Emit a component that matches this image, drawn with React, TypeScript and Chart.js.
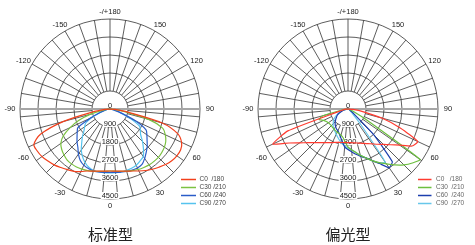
import React, { useEffect, useRef } from 'react';
import { Chart, registerables } from 'chart.js';

Chart.register(...registerables);

// gamma angles (degrees) at which each C-plane curve is sampled
const GAMMA = [-90, -85, -80, -75, -70, -65, -60, -55, -50, -45, -40, -35, -30, -25, -20, -15, -10, -5, 0,
  5, 10, 15, 20, 25, 30, 35, 40, 45, 50, 55, 60, 65, 70, 75, 80, 85, 90];

// 标准型 (standard) intensities, cd
const STD_C0_180 = [0, 250, 900, 2400, 3700, 4200, 4200, 4150, 4050, 3950, 3820, 3700, 3600, 3450, 3300, 3220, 3150, 3120,
  3100,
  3120, 3150, 3220, 3300, 3420, 3550, 3680, 3800, 3930, 4030, 4080, 4080, 3950, 3600, 2700, 900, 250, 0];
const STD_C30_210 = [0, 100, 350, 1000, 1650, 2200, 2700, 3000, 3150, 3250, 3330, 3350, 3350, 3320, 3280, 3220, 3170, 3130,
  3100,
  3120, 3170, 3220, 3280, 3340, 3380, 3410, 3420, 3420, 3380, 3320, 3220, 3050, 2800, 2000, 700, 200, 0];
const STD_C60_240 = [0, 50, 150, 250, 550, 1100, 1850, 2000, 2150, 2330, 2500, 2750, 2970, 3100, 3170, 3200, 3200, 3180,
  3170,
  3180, 3200, 3230, 3250, 3250, 3200, 3020, 2820, 2630, 2420, 2250, 2080, 1400, 600, 200, 60, 0, 0];
const STD_C90_270 = [0, 50, 150, 300, 600, 1000, 1400, 1550, 1700, 1950, 2200, 2500, 2750, 2950, 3100, 3180, 3200, 3200,
  3200,
  3200, 3200, 3180, 3150, 3100, 3000, 2900, 2600, 2300, 2000, 1850, 1700, 1100, 600, 300, 120, 40, 0];

// 偏光型 (asymmetric) intensities, cd
const POL_C0_180 = [0, 100, 250, 500, 3200, 4150, 3400, 2950, 2620, 2380, 2200, 2050, 1940, 1850, 1780, 1730, 1700, 1680,
  1680,
  1690, 1720, 1760, 1820, 1900, 2000, 2130, 2300, 2500, 2780, 3150, 3700, 3850, 2800, 1750, 750, 250, 0];
const POL_C30_210 = [0, 80, 350, 1300, 1550, 1350, 1250, 1200, 1180, 1180, 1200, 1220, 1250, 1280, 1300, 1350, 1450, 1650,
  1900,
  2050, 2200, 2400, 2600, 2850, 3100, 3350, 3650, 3950, 4200, 4400, 1000, 300, 120, 50, 0, 0, 0];
const POL_C60_240 = [0, 40, 100, 200, 350, 500, 620, 700, 800, 900, 1000, 1080, 1150, 1200, 1300, 1450, 1650, 1900,
  2030,
  2150, 2300, 2450, 2600, 2850, 3150, 3580, 3450, 1800, 400, 200, 120, 80, 50, 30, 0, 0, 0];
const POL_C90_270 = [0, 50, 120, 250, 400, 550, 700, 850, 950, 1050, 1150, 1230, 1300, 1400, 1500, 1620, 1750, 1850,
  1950,
  2050, 2200, 2400, 2600, 2850, 3100, 3250, 900, 300, 150, 100, 60, 40, 20, 0, 0, 0, 0];

const RADIAL_TICKS = [0, 900, 1800, 2700, 3600, 4500];
const ANGLE_TICKS = [0, -30, -60, -90, -120, -150, 180, 150, 120, 90, 60, 30];
const ANGLE_TICK_LABELS = ['0', '-30', '-60', '-90', '-120', '-150', '-/+180', '150', '120', '90', '60', '30'];
const SPOKE_ANGLES = [-170, -160, -150, -140, -130, -120, -110, -100, 100, 110, 120, 130, 140, 150, 160, 170, 180,
  -85, -75, -65, -55, -45, -35, -25, -15, -5, 5, 15, 25, 35, 45, 55, 65, 75, 85];
const STD_LEGEND = ['C0  /180', 'C30 /210', 'C60 /240', 'C90 /270'];
const POL_LEGEND = ['C0   /180', 'C30  /210', 'C60  /240', 'C90  /270'];
const STD_TITLE = '标准型';
const POL_TITLE = '偏光型';

const R_MAX = 4500;
const STEP = 5;
const SLOTS = 360 / STEP;
const RADAR_ANGLES = Array.from({ length: SLOTS }, (_, k) => (k <= SLOTS / 2 ? -STEP * k : 360 - STEP * k));

const FONT = '"Liberation Sans", Arial, sans-serif';

function gammaIndex(g: number) {
  return g <= 0 ? -g / STEP : SLOTS - g / STEP;
}

function toRadar(values: number[]) {
  return RADAR_ANGLES.map((a) => {
    const i = GAMMA.indexOf(a);
    return i >= 0 ? values[i] : 0;
  });
}

const polarPlugin = {
  id: 'polarFrame',
  beforeDatasetsDraw(chart: any) {
    const s = chart.scales.r;
    const ctx = chart.ctx;
    const cx = s.xCenter;
    const cy = s.yCenter;
    const dist = (v: number) => s.getDistanceFromCenterForValue(v);
    const inner = dist(RADIAL_TICKS[1]);
    const outer = dist(R_MAX);
    ctx.save();
    ctx.strokeStyle = '#333';
    ctx.lineWidth = 0.8;
    RADIAL_TICKS.slice(1).forEach((v) => {
      ctx.beginPath();
      ctx.arc(cx, cy, dist(v), 0, Math.PI * 2);
      ctx.stroke();
    });
    ctx.beginPath();
    SPOKE_ANGLES.forEach((g) => {
      const i = gammaIndex(g);
      const a = s.getPointPosition(i, inner);
      const b = s.getPointPosition(i, outer);
      ctx.moveTo(a.x, a.y);
      ctx.lineTo(b.x, b.y);
    });
    ctx.stroke();
    const l = s.getPointPosition(gammaIndex(-90), outer);
    const r = s.getPointPosition(gammaIndex(90), outer);
    ctx.strokeStyle = '#a6a6a6';
    ctx.lineWidth = 2;
    ctx.beginPath();
    ctx.moveTo(l.x, l.y);
    ctx.lineTo(r.x, r.y);
    ctx.stroke();

    ctx.font = `7.5px ${FONT}`;
    ctx.textAlign = 'center';
    ctx.textBaseline = 'middle';
    RADIAL_TICKS.forEach((v) => {
      const p = s.getPointPosition(0, dist(v));
      const y = p.y - 3.5;
      const label = String(v);
      if (v > 0) {
        const w = ctx.measureText(label).width;
        ctx.fillStyle = '#fff';
        ctx.fillRect(p.x - w / 2 - 1, y - 3.5, w + 2, 7);
      }
      ctx.fillStyle = '#222';
      ctx.fillText(label, p.x, y);
    });
    ANGLE_TICKS.forEach((g, j) => {
      const ang = s.getIndexAngle(gammaIndex(g)) - Math.PI / 2;
      ctx.fillText(ANGLE_TICK_LABELS[j], cx + Math.cos(ang) * 100, cy + Math.sin(ang) * 97);
    });
    ctx.restore();
  },
  afterDatasetsDraw(chart: any, _args: any, opts: any) {
    const s = chart.scales.r;
    const ctx = chart.ctx;
    const cx = s.xCenter;
    const cy = s.yCenter;
    ctx.save();
    ctx.font = `6.5px ${FONT}`;
    ctx.textBaseline = 'middle';
    ctx.textAlign = 'left';
    chart.data.datasets.forEach((ds: any, i: number) => {
      const y = cy + 70.5 + i * 8;
      ctx.strokeStyle = ds.borderColor;
      ctx.lineWidth = 1.5;
      ctx.beginPath();
      ctx.moveTo(cx + opts.lineStart, y);
      ctx.lineTo(cx + opts.lineEnd, y);
      ctx.stroke();
      ctx.fillStyle = opts.textColor;
      ctx.fillText(ds.label, cx + opts.textX, y);
    });
    ctx.restore();
  },
};

function makeChart(canvas: HTMLCanvasElement, curves: number[][], colors: string[], legend: string[], tension: number, legendOpts: any) {
  return new Chart(canvas, {
    type: 'radar',
    data: {
      labels: RADAR_ANGLES.map(String),
      datasets: curves.map((c, i) => ({
        label: legend[i],
        data: toRadar(c),
        borderColor: colors[i],
        backgroundColor: 'transparent',
        borderWidth: 1.2,
        pointRadius: 0,
        pointHoverRadius: 0,
        fill: false,
        tension,
      })),
    },
    options: {
      animation: false,
      responsive: false,
      devicePixelRatio: 1,
      events: [],
      layout: { padding: { left: 20, right: 36, top: 19, bottom: 45 } },
      plugins: {
        legend: { display: false },
        tooltip: { enabled: false },
        title: { display: false },
        polarFrame: legendOpts,
      } as any,
      scales: {
        r: {
          min: 0,
          max: R_MAX,
          startAngle: 180,
          ticks: { display: false, stepSize: 900 },
          grid: { display: false },
          angleLines: { display: false },
          pointLabels: { display: false },
        },
      },
    },
    plugins: [polarPlugin as any],
  } as any);
}

export default function App() {
  const leftRef = useRef<HTMLCanvasElement>(null);
  const rightRef = useRef<HTMLCanvasElement>(null);

  useEffect(() => {
    const a = makeChart(
      leftRef.current!,
      [STD_C0_180, STD_C30_210, STD_C60_240, STD_C90_270],
      ['#f2401c', '#7cc242', '#2a5cc8', '#55c3ee'],
      STD_LEGEND,
      0.3,
      { lineStart: 71, lineEnd: 86, textX: 89.5, textColor: '#444' }
    );
    const b = makeChart(
      rightRef.current!,
      [POL_C0_180, POL_C30_210, POL_C60_240, POL_C90_270],
      ['#ff3b30', '#6cbf3f', '#1c3fae', '#67c7ea'],
      POL_LEGEND,
      0.15,
      { lineStart: 70, lineEnd: 83.5, textX: 88, textColor: '#666' }
    );
    return () => {
      a.destroy();
      b.destroy();
    };
  }, []);

  const titleStyle: React.CSSProperties = {
    position: 'absolute',
    top: 226,
    width: 90,
    textAlign: 'center',
    fontFamily: '"Noto Sans CJK SC", sans-serif',
    fontSize: 15,
    lineHeight: '15px',
    color: '#222',
  };

  return (
    <div style={{ position: 'fixed', left: 0, top: 0, width: 475, height: 245, background: '#fff', overflow: 'hidden' }}>
      <canvas ref={leftRef} width={237} height={245} style={{ position: 'absolute', left: 0, top: 0, width: 237, height: 245 }} />
      <canvas ref={rightRef} width={237} height={245} style={{ position: 'absolute', left: 238, top: 0, width: 237, height: 245 }} />
      <div style={{ ...titleStyle, left: 110.5 - 45 }}>{STD_TITLE}</div>
      <div style={{ ...titleStyle, left: 348 - 45 }}>{POL_TITLE}</div>
    </div>
  );
}
